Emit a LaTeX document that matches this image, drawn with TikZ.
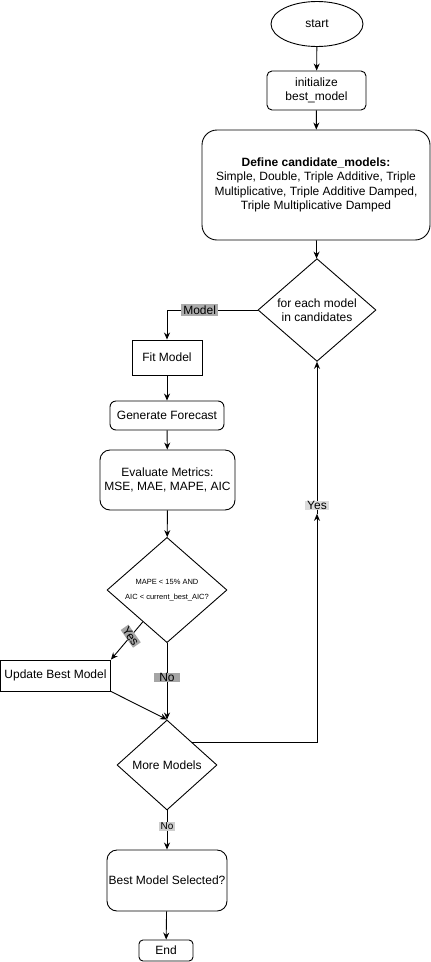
\documentclass[tikz,border=0pt]{standalone}
\usepackage{fontspec}
\setmainfont{Liberation Sans}
\usetikzlibrary{shapes.geometric,arrows.meta,calc}
\definecolor{lblA}{RGB}{171,171,171}
\definecolor{lblB}{RGB}{220,220,220}
\definecolor{lblC}{RGB}{165,165,165}
\definecolor{lblD}{RGB}{205,205,205}
\begin{document}
\begin{tikzpicture}[x=1pt,y=-1pt,
  every node/.style={font=\fontsize{12}{14.5}\selectfont, align=center},
  box/.style={draw, line width=0.9pt, inner sep=0pt},
  dia/.style={box, diamond, inner sep=0pt},
  arr/.style={-{Stealth[length=7pt,width=6pt]}, line width=0.9pt},
  lbl/.style={fill=#1, inner xsep=2pt, inner ysep=1.5pt}]
\useasboundingbox (0,0) rectangle (431,962);
\fill[white] (0,0) rectangle (431,962);

\node[box, ellipse, minimum width=92pt, minimum height=45pt] (start) at (317,24) {start};
\node[box, rounded corners=5pt, minimum width=99pt, minimum height=39pt] (init) at (316.5,90.5) {initialize\\best\_model};
\node[box, rounded corners=15pt, minimum width=228pt, minimum height=110pt] (def) at (316,185)
  {{\bfseries Define candidate\_models:}\\Simple, Double, Triple Additive, Triple\\Multiplicative, Triple Additive Damped,\\Triple Multiplicative Damped};
\node[dia, minimum width=118pt, minimum height=100pt] (fe) at (317,310) {for each model\\in candidates};
\node[box, minimum width=70pt, minimum height=35pt] (fit) at (167,357.5) {Fit Model};
\node[box, rounded corners=6pt, minimum width=114pt, minimum height=29pt] (gen) at (167,415.5) {Generate Forecast};
\node[box, rounded corners=10pt, minimum width=135pt, minimum height=60pt] (eval) at (167.5,480) {Evaluate Metrics:\\MSE, MAE, MAPE, AIC};
\node[dia, minimum width=120pt, minimum height=100pt, font=\fontsize{7.5}{15}\selectfont] (mp) at (167,590) {MAPE < 15\% AND\\AIC < current\_best\_AIC?};
\node[box, minimum width=110pt, minimum height=31pt] (ub) at (55.5,675.5) {Update Best Model};
\node[dia, minimum width=100pt, minimum height=90pt] (mm) at (167,765) {More Models};
\node[box, rounded corners=10pt, minimum width=120pt, minimum height=61pt] (bms) at (167,880.5) {Best Model Selected?};
\node[box, rounded corners=4pt, minimum width=54pt, minimum height=21pt] (end) at (166,950.5) {End};

\coordinate (yesc) at ($(fe.south)+(0,152)$);
\coordinate (yesstart) at ($(mp.west)!0.6!(mp.south)$);

\draw[arr] (start) -- (init);
\draw[arr] (init) -- (def);
\draw[arr] (def) -- (fe);
\draw[arr] (fe.west) -| node[lbl=lblA, pos=0.32] (lmodel) {Model} (fit.north);
\draw[arr] (fit) -- (gen);
\draw[arr] (gen) -- (eval);
\draw[arr] (eval) -- (mp);
\draw[arr] (yesstart) -- node[lbl=lblC, rotate=-55, pos=0.38, inner ysep=0.5pt, inner xsep=1pt] (lyes1) {Yes} (ub.north east);
\draw[arr] (mp.south) -- node[lbl=lblC, pos=0.45, inner xsep=5pt, inner ysep=0.5pt] (lno1) {No} (mm.north);
\draw[arr] (ub.south east) -- (mm.north);
\draw[arr] (mm.north east) -| (yesc);
\draw[arr] (yesc) -- (fe.south);
\node[lbl=lblB, inner ysep=0.5pt] (lyes2) at ($(fe.south)+(0,144)$) {Yes};
\draw[arr] (mm) -- node[lbl=lblD, pos=0.4, font=\fontsize{10}{11}\selectfont, inner ysep=1pt] (lno2) {No} (bms);
\draw[arr] (bms) -- (end);
\end{tikzpicture}
\end{document}
